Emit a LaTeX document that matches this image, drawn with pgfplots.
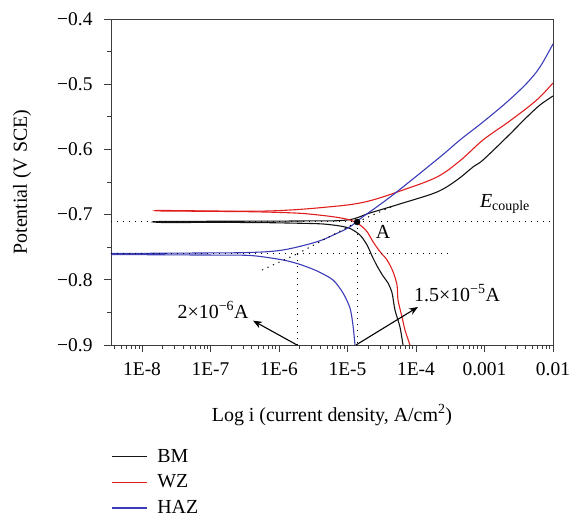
\documentclass[border=0pt]{standalone}
\usepackage{fontspec}
\setmainfont{Liberation Serif}
\usepackage{pgfplots}
\pgfplotsset{compat=1.18}
\usetikzlibrary{arrows.meta}
\definecolor{bmc}{RGB}{20,20,20}
\definecolor{wzc}{RGB}{225,30,30}
\definecolor{hazc}{RGB}{60,60,185}
\definecolor{axc}{RGB}{60,60,60}
\begin{document}
\begin{tikzpicture}
\begin{axis}[
  scale only axis, width=442bp, height=326bp,
  xmode=log, xmin=3.52e-9, xmax=0.01,
  ymin=-0.9, ymax=-0.4,
  axis line style={axc, line width=0.9bp},
  every tick/.style={axc, line width=0.8bp},
  tick align=outside, xtick pos=bottom, ytick pos=left,
  major tick length=7bp, minor tick length=4bp,
  xtick={1e-8,1e-7,1e-6,1e-5,1e-4,1e-3,1e-2},
  xticklabels={1E-8,1E-7,1E-6,1E-5,1E-4,0.001,0.01},
  minor xtick={4e-9,5e-9,6e-9,7e-9,8e-9,9e-9,
    2e-8,3e-8,4e-8,5e-8,6e-8,7e-8,8e-8,9e-8,
    2e-7,3e-7,4e-7,5e-7,6e-7,7e-7,8e-7,9e-7,
    2e-6,3e-6,4e-6,5e-6,6e-6,7e-6,8e-6,9e-6,
    2e-5,3e-5,4e-5,5e-5,6e-5,7e-5,8e-5,9e-5,
    2e-4,3e-4,4e-4,5e-4,6e-4,7e-4,8e-4,9e-4,
    2e-3,3e-3,4e-3,5e-3,6e-3,7e-3,8e-3,9e-3},
  ytick={-0.9,-0.8,-0.7,-0.6,-0.5,-0.4},
  yticklabels={−0.9,−0.8,−0.7,−0.6,−0.5,−0.4},
  minor ytick={-0.85,-0.75,-0.65,-0.55,-0.45},
  tick label style={font=\fontsize{19.5}{23}\selectfont},
  yticklabel style={xshift=-8bp},
  xticklabel style={yshift=-7bp},
  label style={font=\fontsize{20}{24}\selectfont},
  xlabel={Log i (current density, A/cm\textsuperscript{2})},
  ylabel={Potential (V SCE)},
  xlabel style={at={(rel axis cs:0.5,-0.2147)}, anchor=center},
  ylabel style={at={(rel axis cs:-0.2014,0.5)}, anchor=center},
  legend style={at={(rel axis cs:0,-0.313)}, anchor=north west, draw=none, fill=none,
    font=\fontsize{20}{24}\selectfont, row sep=7.2bp, inner sep=0pt,
    /tikz/every odd column/.append style={column sep=8bp}},
  legend cell align=left,
  legend image code/.code={\draw[#1] (0bp,0bp) -- (35bp,0bp);},
  clip=true,
]
% BM
\addplot[bmc, line width=1.1bp, smooth, tension=0.45] coordinates {
(6.46e-5,-0.900) (5.83e-5,-0.8724) (4.93e-5,-0.8463) (4.47e-5,-0.8202) (3.90e-5,-0.8049)
(3.30e-5,-0.7942) (2.70e-5,-0.7788) (2.28e-5,-0.7635) (1.93e-5,-0.7466) (1.52e-5,-0.7313)
(1.087e-5,-0.7213) (7.78e-6,-0.7175) (4.39e-6,-0.7144) (2.03e-6,-0.7133) (3.78e-7,-0.7121)
(1.96e-8,-0.7121)};
\addlegendentry{BM}
\addplot[bmc, line width=1.1bp, smooth, tension=0.55, forget plot] coordinates {
(1.96e-8,-0.7121) (1.96e-8,-0.7106) (2.03e-6,-0.7098) (9.84e-6,-0.7083) (2.13e-5,-0.6975)
(6.46e-5,-0.6822) (2.03e-4,-0.6653) (3.97e-4,-0.6469) (6.79e-4,-0.6270) (9.50e-4,-0.6163)
(2.13e-3,-0.5810) (4.17e-3,-0.5503) (6.46e-3,-0.5319) (1e-2,-0.5181)
};
% WZ
\addplot[wzc, line width=1.1bp, smooth, tension=0.45] coordinates {
(8.17e-5,-0.900) (6.90e-5,-0.8770) (6.25e-5,-0.8571) (5.46e-5,-0.8310) (5.28e-5,-0.8080)
(4.62e-5,-0.7876) (3.78e-5,-0.7696) (2.98e-5,-0.7569) (2.355e-5,-0.7416) (1.93e-5,-0.7262)
(1.52e-5,-0.7160) (1.087e-5,-0.7083) (6.14e-6,-0.7033) (2.03e-6,-0.6980) (3.78e-7,-0.6956)
(1.96e-8,-0.6945)};
\addlegendentry{WZ}
\addplot[wzc, line width=1.1bp, smooth, tension=0.55, forget plot] coordinates {
(1.96e-8,-0.6945) (1.96e-8,-0.6937) (6.68e-7,-0.6945) (6.14e-6,-0.6876) (1.93e-5,-0.6799)
(6.46e-5,-0.6623) (2.03e-4,-0.6423) (4.38e-4,-0.6175) (9.50e-4,-0.5856) (2.13e-3,-0.5595)
(4.17e-3,-0.5365) (6.46e-3,-0.5196) (1e-2,-0.4982)
};
% HAZ
\addplot[hazc, line width=1.1bp, smooth, tension=0.45] coordinates {
(1.285e-5,-0.900) (1.20e-5,-0.8693) (1.087e-5,-0.8433) (8.59e-6,-0.8202) (6.14e-6,-0.8003)
(3.59e-6,-0.7865) (2.03e-6,-0.7765) (1.14e-6,-0.7696) (3.78e-7,-0.7627) (7.03e-8,-0.7620)
(3.52e-9,-0.7612)};
\addlegendentry{HAZ}
\addplot[hazc, line width=1.1bp, smooth, tension=0.55, forget plot] coordinates {
(3.52e-9,-0.7597) (7.03e-8,-0.7589) (3.78e-7,-0.7581) (1.14e-6,-0.7543)
(3.59e-6,-0.7416) (7.03e-6,-0.7287) (1.087e-5,-0.7186) (1.68e-5,-0.7032) (2.70e-5,-0.6879)
(5.28e-5,-0.6649) (2.24e-4,-0.6117) (4.38e-4,-0.5856) (9.50e-4,-0.5580) (2.13e-3,-0.5273)
(4.17e-3,-0.4982) (6.46e-3,-0.4736) (1e-2,-0.4383)
};
% dotted construction lines
\addplot[black, line width=1bp, dash pattern=on 1.2bp off 4.8bp, forget plot] coordinates {(3.52e-9,-0.7113) (1e-2,-0.7113)};
\addplot[black, line width=1bp, dash pattern=on 1.2bp off 4.8bp, forget plot] coordinates {(3.52e-9,-0.7604) (2.84e-4,-0.7604)};
\addplot[black, line width=1bp, dash pattern=on 1.2bp off 4.8bp, forget plot] coordinates {(1.38e-5,-0.7113) (1.38e-5,-0.9)};
\addplot[black, line width=1bp, dash pattern=on 1.2bp off 4.8bp, forget plot] coordinates {(1.83e-6,-0.7604) (1.83e-6,-0.9)};
\addplot[black, line width=1bp, dash pattern=on 1.2bp off 4.8bp, forget plot] coordinates {(5.65e-7,-0.785) (1.83e-6,-0.7604)};
\addplot[black, line width=1bp, dash pattern=on 1.2bp off 4.8bp, forget plot] coordinates {(1.83e-6,-0.7604) (1.38e-5,-0.7113)};
\addplot[black, line width=1bp, dash pattern=on 1.2bp off 4.8bp, forget plot] coordinates {(1.38e-5,-0.7113) (4.61e-5,-0.6868)};
% point A
\addplot[only marks, mark=*, mark size=3bp, black, forget plot] coordinates {(1.38e-5,-0.7113)};
% arrows
\addplot[black, line width=1.1bp, -{Stealth[length=9bp,width=7bp]}, forget plot] coordinates {(1.83e-6,-0.9) (4.17e-7,-0.8627)};
\addplot[black, line width=1.1bp, -{Stealth[length=9bp,width=7bp]}, forget plot] coordinates {(1.33e-5,-0.9) (1.07e-4,-0.8417)};
% labels
\node[font=\fontsize{20}{24}\selectfont] at (axis cs:1.09e-7,-0.8463) {2×10\textsuperscript{−6}A};
\node[font=\fontsize{20}{24}\selectfont] at (axis cs:3.97e-4,-0.8202) {1.5×10\textsuperscript{−5}A};
\node[font=\fontsize{20}{24}\selectfont] at (axis cs:3.30e-5,-0.7267) {A};
\node[font=\fontsize{20}{24}\selectfont] at (axis cs:1.99e-3,-0.6837) {\textit{E}\textsubscript{couple}};
\end{axis}
\pgfresetboundingbox
\useasboundingbox ([xshift=-111bp,yshift=-172bp]current axis.south west) rectangle ([xshift=17bp,yshift=19bp]current axis.north east);
\end{tikzpicture}
\end{document}
